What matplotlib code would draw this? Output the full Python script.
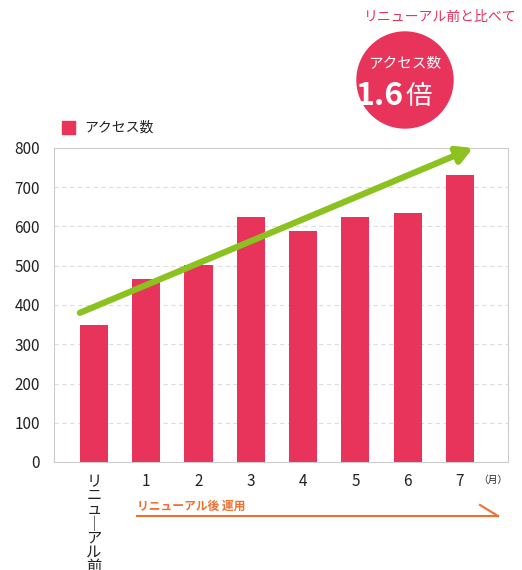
import matplotlib
matplotlib.use("Agg")
import matplotlib.pyplot as plt
from matplotlib.patches import Circle, Rectangle

plt.rcParams['font.family'] = ['Noto Sans CJK JP', 'DejaVu Sans']

categories = ["リ\nニ\nュ\n｜\nア\nル\n前", "1", "2", "3", "4", "5", "6", "7"]
values = [350, 465, 503, 623, 588, 625, 635, 730]
yticks = [0, 100, 200, 300, 400, 500, 600, 700, 800]
pink = "#e8335a"
green = "#8cc21f"
orange = "#f07030"

fig = plt.figure(figsize=(5.22, 5.70), dpi=100)
ax = fig.add_axes([54/522, 1-462/570, 454/522, 314/570])
x = list(range(len(values)))
ax.bar(x, values, width=0.54, color=pink, zorder=2)
ax.set_xlim(-0.765, 7.92)
ax.set_ylim(0, 800)
ax.set_yticks(yticks)
ax.set_xticks(x)
ax.set_xticklabels(categories, fontsize=10.5, va='top')
for i, lab in enumerate(ax.get_xticklabels()):
    if i == 0:
        lab.set_fontsize(9)
        lab.set_linespacing(0.78)
ax.tick_params(length=0, labelsize=11, colors="#222222", pad=8)
ax.tick_params(axis='y', pad=10)
ax.grid(axis='y', color='#dddddd', linestyle=(0, (4, 3)), linewidth=0.8, zorder=0)
for s in ax.spines.values():
    s.set_color('#cccccc')
ax.annotate("", xy=(7.25, 800), xytext=(-0.27, 380),
            arrowprops=dict(arrowstyle="-|>,head_length=0.9,head_width=0.5", color=green, lw=4.5,
                            shrinkA=0, shrinkB=0, fill=False),
            annotation_clip=False, zorder=5)

ov = fig.add_axes([0, 0, 1, 1], zorder=3)
ov.set_xlim(0, 522); ov.set_ylim(570, 0); ov.axis('off'); ov.patch.set_alpha(0)
ov.add_patch(Circle((405, 80), 48, color=pink))
ov.text(405, 64, "アクセス数", color='white', fontsize=10.5, ha='center', va='center')
ov.text(403, 96, "1.6", color='white', fontsize=23, ha='right', va='center', weight='bold')
ov.text(406, 96, "倍", color='white', fontsize=19, ha='left', va='center')
ov.text(440, 17, "リニューアル前と比べて", color=pink, fontsize=10, ha='center', va='center')
ov.add_patch(Rectangle((62, 121), 13, 13, color=pink))
ov.text(84, 128, "アクセス数", fontsize=10, ha='left', va='center', color='#222222')
ov.text(493, 480, "（月）", fontsize=7, ha='center', va='center', color='#222222')
ov.text(137, 506, "リニューアル後 運用", fontsize=8.5, color=orange, ha='left', va='center', weight='bold')
ov.plot([137, 498], [516, 516], color=orange, lw=1.5)
ov.plot([480, 498], [505, 516], color=orange, lw=1.5)

fig.savefig("out.png", dpi=100)
